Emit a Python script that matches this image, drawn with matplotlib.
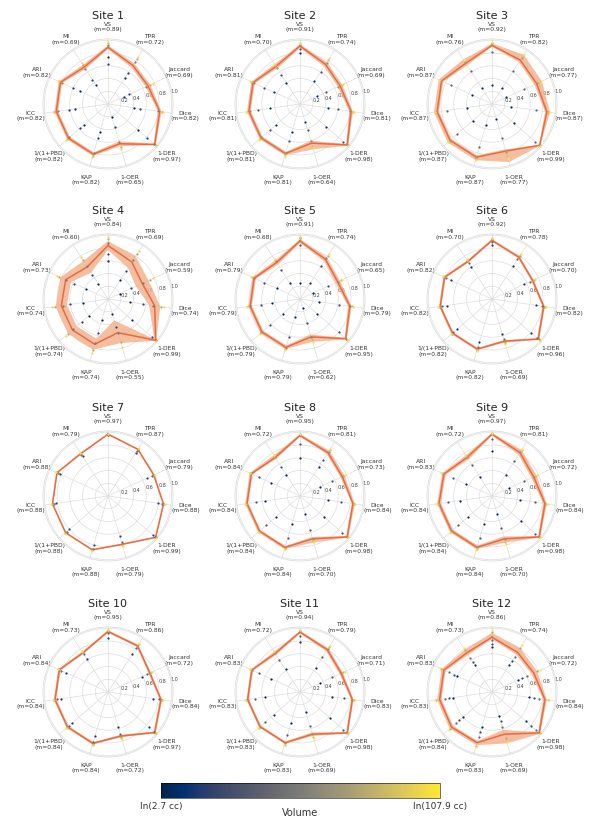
import numpy as np
import matplotlib
matplotlib.use("Agg")
import matplotlib.pyplot as plt
from matplotlib.colors import Normalize

# ---- data -----------------------------------------------------------------
metrics = ["VS", "TPR", "Jaccard", "Dice", "1-DER", "1-OER", "KAP",
           "1/(1+PBD)", "ICC", "ARI", "MI"]
sites = [f"Site {i}" for i in range(1, 13)]

# mean score per site and metric
site_means = [
    [0.89, 0.72, 0.69, 0.82, 0.97, 0.65, 0.82, 0.82, 0.82, 0.82, 0.69],
    [0.91, 0.74, 0.69, 0.81, 0.98, 0.64, 0.81, 0.81, 0.81, 0.81, 0.70],
    [0.92, 0.82, 0.77, 0.87, 0.99, 0.77, 0.87, 0.87, 0.87, 0.87, 0.76],
    [0.84, 0.69, 0.59, 0.74, 0.99, 0.55, 0.74, 0.74, 0.74, 0.73, 0.60],
    [0.91, 0.74, 0.65, 0.79, 0.95, 0.62, 0.79, 0.79, 0.79, 0.79, 0.68],
    [0.92, 0.78, 0.70, 0.82, 0.96, 0.69, 0.82, 0.82, 0.82, 0.82, 0.70],
    [0.97, 0.87, 0.79, 0.88, 0.99, 0.79, 0.88, 0.88, 0.88, 0.88, 0.79],
    [0.95, 0.81, 0.73, 0.84, 0.98, 0.70, 0.84, 0.84, 0.84, 0.84, 0.72],
    [0.97, 0.81, 0.72, 0.84, 0.98, 0.70, 0.84, 0.84, 0.84, 0.83, 0.72],
    [0.95, 0.86, 0.72, 0.84, 0.97, 0.72, 0.84, 0.84, 0.84, 0.84, 0.73],
    [0.94, 0.79, 0.71, 0.83, 0.98, 0.69, 0.83, 0.83, 0.83, 0.83, 0.72],
    [0.86, 0.74, 0.72, 0.84, 0.98, 0.69, 0.83, 0.84, 0.83, 0.83, 0.73],
]

# lower and upper edge of the shaded spread per site and metric
band_low = [
    [0.86, 0.68, 0.65, 0.79, 0.95, 0.61, 0.79, 0.79, 0.79, 0.79, 0.65],
    [0.88, 0.70, 0.65, 0.78, 0.96, 0.60, 0.78, 0.78, 0.78, 0.78, 0.66],
    [0.90, 0.78, 0.73, 0.84, 0.98, 0.74, 0.84, 0.84, 0.84, 0.84, 0.72],
    [0.77, 0.58, 0.48, 0.65, 0.96, 0.35, 0.65, 0.65, 0.65, 0.64, 0.49],
    [0.88, 0.70, 0.61, 0.76, 0.93, 0.58, 0.76, 0.76, 0.76, 0.76, 0.64],
    [0.90, 0.76, 0.68, 0.80, 0.94, 0.67, 0.80, 0.80, 0.80, 0.80, 0.68],
    [0.96, 0.86, 0.78, 0.87, 0.98, 0.78, 0.87, 0.87, 0.87, 0.87, 0.78],
    [0.93, 0.78, 0.70, 0.82, 0.96, 0.67, 0.82, 0.82, 0.82, 0.82, 0.69],
    [0.95, 0.77, 0.68, 0.81, 0.96, 0.66, 0.81, 0.81, 0.81, 0.80, 0.68],
    [0.93, 0.84, 0.70, 0.82, 0.95, 0.70, 0.82, 0.82, 0.82, 0.82, 0.71],
    [0.92, 0.76, 0.68, 0.81, 0.96, 0.66, 0.81, 0.81, 0.81, 0.81, 0.69],
    [0.83, 0.70, 0.68, 0.81, 0.96, 0.62, 0.80, 0.81, 0.80, 0.80, 0.69],
]
band_high = [
    [0.92, 0.76, 0.73, 0.85, 0.99, 0.69, 0.85, 0.85, 0.85, 0.85, 0.73],
    [0.94, 0.78, 0.73, 0.84, 1.00, 0.74, 0.84, 0.84, 0.84, 0.84, 0.74],
    [0.95, 0.92, 0.86, 0.92, 1.00, 0.95, 0.92, 0.92, 0.92, 0.92, 0.83],
    [0.91, 0.80, 0.70, 0.83, 1.00, 0.72, 0.83, 0.83, 0.83, 0.82, 0.71],
    [0.94, 0.78, 0.69, 0.82, 0.97, 0.70, 0.82, 0.82, 0.82, 0.82, 0.72],
    [0.94, 0.80, 0.72, 0.84, 0.98, 0.71, 0.84, 0.84, 0.84, 0.84, 0.72],
    [0.98, 0.88, 0.80, 0.89, 1.00, 0.80, 0.89, 0.89, 0.89, 0.89, 0.80],
    [0.97, 0.85, 0.77, 0.87, 1.00, 0.76, 0.87, 0.87, 0.87, 0.87, 0.76],
    [0.99, 0.86, 0.77, 0.87, 1.00, 0.76, 0.87, 0.87, 0.87, 0.86, 0.76],
    [0.97, 0.88, 0.74, 0.86, 0.99, 0.74, 0.86, 0.86, 0.86, 0.86, 0.75],
    [0.96, 0.82, 0.74, 0.85, 1.00, 0.72, 0.85, 0.85, 0.85, 0.85, 0.75],
    [0.93, 0.82, 0.78, 0.87, 1.00, 0.84, 0.87, 0.88, 0.87, 0.87, 0.79],
]

# tumour volume (cc) of the individual cases per site
case_volumes = [
    [2.9, 4.5, 18, 45, 95],
    [3.5, 7, 25, 60, 100],
    [3.0, 10, 30, 60, 105],
    [2.8, 5, 15, 40, 90],
    [2.9, 6, 20, 50, 100],
    [4.0, 12, 30, 60, 100],
    [5.0, 10, 20, 50, 100],
    [3.0, 7, 25, 60, 100],
    [3.0, 8, 25, 60, 105],
    [4.0, 10, 30, 60, 100],
    [3.0, 8, 25, 55, 100],
    [3.0, 6, 12, 40, 105],
]

# individual case scores per site (rows follow case_volumes)
case_scores = [
    [[0.74, 0.48, 0.28, 0.42, 0.62, 0.22, 0.45, 0.50, 0.52, 0.48, 0.35],
     [0.62, 0.58, 0.36, 0.50, 0.82, 0.38, 0.55, 0.58, 0.62, 0.60, 0.45],
     [0.93, 0.78, 0.66, 0.80, 0.96, 0.62, 0.80, 0.80, 0.80, 0.80, 0.66],
     [0.95, 0.84, 0.73, 0.85, 0.99, 0.70, 0.85, 0.85, 0.85, 0.85, 0.73],
     [0.97, 0.87, 0.77, 0.87, 1.00, 0.73, 0.87, 0.87, 0.87, 0.87, 0.76]],
    [[0.80, 0.42, 0.30, 0.45, 0.55, 0.30, 0.45, 0.50, 0.48, 0.45, 0.40],
     [0.86, 0.60, 0.45, 0.60, 0.90, 0.42, 0.60, 0.62, 0.66, 0.62, 0.55],
     [0.93, 0.77, 0.66, 0.80, 0.97, 0.60, 0.80, 0.80, 0.80, 0.80, 0.68],
     [0.95, 0.82, 0.72, 0.84, 0.99, 0.68, 0.84, 0.84, 0.84, 0.84, 0.72],
     [0.96, 0.85, 0.75, 0.86, 1.00, 0.72, 0.86, 0.86, 0.86, 0.86, 0.75]],
    [[0.30, 0.30, 0.25, 0.30, 0.45, 0.25, 0.35, 0.40, 0.40, 0.35, 0.30],
     [0.82, 0.62, 0.55, 0.70, 0.90, 0.55, 0.70, 0.72, 0.72, 0.70, 0.62],
     [0.95, 0.86, 0.78, 0.88, 0.99, 0.78, 0.88, 0.88, 0.88, 0.88, 0.78],
     [0.96, 0.90, 0.82, 0.90, 1.00, 0.85, 0.90, 0.90, 0.90, 0.90, 0.80],
     [0.97, 0.92, 0.84, 0.91, 1.00, 0.88, 0.91, 0.91, 0.91, 0.91, 0.82]],
    [[0.60, 0.35, 0.20, 0.35, 0.50, 0.25, 0.35, 0.40, 0.40, 0.38, 0.28],
     [0.70, 0.52, 0.40, 0.55, 0.92, 0.45, 0.55, 0.55, 0.60, 0.58, 0.45],
     [0.88, 0.72, 0.60, 0.72, 0.99, 0.55, 0.72, 0.72, 0.72, 0.72, 0.62],
     [0.94, 0.84, 0.72, 0.84, 1.00, 0.70, 0.84, 0.84, 0.84, 0.84, 0.72],
     [0.97, 0.90, 0.78, 0.88, 1.00, 0.78, 0.88, 0.88, 0.88, 0.88, 0.78]],
    [[0.25, 0.30, 0.22, 0.30, 0.35, 0.15, 0.30, 0.35, 0.45, 0.40, 0.30],
     [0.85, 0.62, 0.48, 0.62, 0.80, 0.40, 0.62, 0.62, 0.62, 0.62, 0.55],
     [0.96, 0.76, 0.66, 0.80, 0.96, 0.62, 0.80, 0.80, 0.80, 0.80, 0.70],
     [0.98, 0.80, 0.70, 0.82, 0.98, 0.66, 0.82, 0.82, 0.82, 0.82, 0.72],
     [0.97, 0.84, 0.72, 0.84, 0.99, 0.70, 0.84, 0.84, 0.84, 0.84, 0.74]],
    [[0.85, 0.62, 0.55, 0.70, 0.82, 0.58, 0.70, 0.72, 0.72, 0.70, 0.60],
     [0.90, 0.74, 0.66, 0.79, 0.93, 0.66, 0.79, 0.80, 0.80, 0.79, 0.68],
     [0.94, 0.80, 0.72, 0.83, 0.97, 0.70, 0.83, 0.83, 0.83, 0.83, 0.72],
     [0.95, 0.82, 0.73, 0.84, 0.99, 0.72, 0.84, 0.84, 0.84, 0.84, 0.73],
     [0.96, 0.84, 0.75, 0.85, 1.00, 0.73, 0.85, 0.85, 0.85, 0.85, 0.74]],
    [[0.95, 0.80, 0.68, 0.80, 0.93, 0.65, 0.80, 0.80, 0.82, 0.82, 0.74],
     [0.96, 0.84, 0.76, 0.86, 0.98, 0.76, 0.86, 0.86, 0.86, 0.86, 0.77],
     [0.97, 0.86, 0.78, 0.87, 0.99, 0.78, 0.87, 0.87, 0.87, 0.87, 0.78],
     [0.98, 0.88, 0.80, 0.89, 1.00, 0.80, 0.89, 0.89, 0.89, 0.89, 0.80],
     [0.97, 0.89, 0.81, 0.90, 1.00, 0.81, 0.90, 0.90, 0.90, 0.90, 0.81]],
    [[0.60, 0.55, 0.35, 0.45, 0.50, 0.30, 0.45, 0.50, 0.55, 0.50, 0.40],
     [0.82, 0.68, 0.55, 0.65, 0.88, 0.55, 0.68, 0.70, 0.70, 0.70, 0.55],
     [0.96, 0.83, 0.74, 0.85, 0.98, 0.70, 0.85, 0.85, 0.85, 0.85, 0.73],
     [0.97, 0.86, 0.76, 0.86, 0.99, 0.74, 0.86, 0.86, 0.86, 0.86, 0.75],
     [0.98, 0.88, 0.78, 0.87, 1.00, 0.76, 0.87, 0.87, 0.87, 0.87, 0.76]],
    [[0.70, 0.40, 0.30, 0.45, 0.60, 0.30, 0.45, 0.50, 0.50, 0.45, 0.35],
     [0.90, 0.65, 0.55, 0.68, 0.90, 0.52, 0.68, 0.70, 0.70, 0.68, 0.58],
     [0.97, 0.82, 0.72, 0.84, 0.98, 0.70, 0.84, 0.84, 0.84, 0.84, 0.72],
     [0.98, 0.86, 0.76, 0.86, 0.99, 0.75, 0.86, 0.86, 0.86, 0.86, 0.75],
     [0.99, 0.88, 0.78, 0.88, 1.00, 0.78, 0.88, 0.88, 0.88, 0.88, 0.77]],
    [[0.85, 0.70, 0.58, 0.72, 0.85, 0.58, 0.72, 0.74, 0.74, 0.72, 0.62],
     [0.93, 0.82, 0.68, 0.81, 0.95, 0.68, 0.81, 0.81, 0.81, 0.81, 0.70],
     [0.96, 0.87, 0.73, 0.85, 0.98, 0.73, 0.85, 0.85, 0.85, 0.85, 0.74],
     [0.97, 0.89, 0.75, 0.86, 0.99, 0.75, 0.86, 0.86, 0.86, 0.86, 0.75],
     [0.97, 0.90, 0.76, 0.87, 1.00, 0.77, 0.87, 0.87, 0.87, 0.87, 0.76]],
    [[0.78, 0.45, 0.35, 0.50, 0.62, 0.32, 0.50, 0.55, 0.55, 0.50, 0.42],
     [0.88, 0.65, 0.55, 0.70, 0.90, 0.55, 0.70, 0.72, 0.72, 0.70, 0.60],
     [0.95, 0.80, 0.71, 0.83, 0.98, 0.69, 0.83, 0.83, 0.83, 0.83, 0.72],
     [0.97, 0.84, 0.75, 0.86, 0.99, 0.74, 0.86, 0.86, 0.86, 0.86, 0.75],
     [0.98, 0.86, 0.77, 0.87, 1.00, 0.76, 0.87, 0.87, 0.87, 0.87, 0.76]],
    [[0.70, 0.50, 0.45, 0.58, 0.70, 0.40, 0.58, 0.60, 0.62, 0.60, 0.50],
     [0.76, 0.58, 0.52, 0.66, 0.82, 0.48, 0.66, 0.68, 0.68, 0.66, 0.56],
     [0.82, 0.66, 0.60, 0.74, 0.92, 0.58, 0.74, 0.75, 0.75, 0.74, 0.64],
     [0.94, 0.82, 0.78, 0.88, 0.99, 0.76, 0.88, 0.88, 0.88, 0.88, 0.78],
     [0.97, 0.88, 0.82, 0.90, 1.00, 0.82, 0.90, 0.90, 0.90, 0.90, 0.82]],
]

vol_min, vol_max = 2.7, 107.9

# ---- figure ---------------------------------------------------------------
W, H = 589, 820
fig = plt.figure(figsize=(W / 100, H / 100), dpi=100)

line_color = "#ea6a3f"
band_color = "#f2b08a"
cmap = plt.get_cmap("cividis")
norm = Normalize(np.log(vol_min), np.log(vol_max))

n = len(metrics)
angles = np.linspace(0, 2 * np.pi, n, endpoint=False)
closed = np.append(angles, angles[0])

col_x = [108, 300, 492]
row_y = [105, 300, 497, 693]
R = 65  # radius of a radar in pixels


def close(values):
    values = np.asarray(values, dtype=float)
    return np.append(values, values[0])


for k, name in enumerate(sites):
    cx = col_x[k % 3]
    cy = row_y[k // 3]
    ax = fig.add_axes([(cx - R) / W, 1 - (cy + R) / H, 2 * R / W, 2 * R / H],
                      projection="polar")
    ax.set_theta_offset(np.pi / 2)
    ax.set_theta_direction(-1)
    ax.set_ylim(0, 1.02)

    mean = np.array(site_means[k])
    hi = close(band_high[k])
    lo = close(band_low[k])
    ax.fill(np.concatenate([closed, closed[::-1]]),
            np.concatenate([hi, lo[::-1]]),
            color=band_color, alpha=0.8, lw=0, zorder=2)
    ax.plot(closed, close(mean), color=line_color, lw=1.1, zorder=3)

    scores = np.array(case_scores[k])
    vols = np.log(np.array(case_volumes[k]))
    for row, v in zip(scores, vols):
        ax.scatter(angles, row, s=2.5, color=cmap(norm(v)), lw=0, zorder=4)

    ax.set_xticks(angles)
    ax.set_xticklabels([f"{m}\n(m={v:.2f})" for m, v in zip(metrics, mean)],
                       fontsize=4.3, color="#333333", linespacing=1.15)
    ax.tick_params(axis="x", pad=2.5, length=0)
    ax.set_yticks([0.2, 0.4, 0.6, 0.8, 1.0])
    ax.set_yticklabels(["0.2", "0.4", "0.6", "0.8", "1.0"], fontsize=3.5,
                       color="#444444")
    ax.set_rlabel_position(80)
    ax.grid(color="#dddddd", lw=0.5)
    ax.spines["polar"].set_color("#dddddd")
    ax.spines["polar"].set_linewidth(0.6)
    ax.text(0.5, 1 + 24 / (2 * R), name, transform=ax.transAxes,
            ha="center", va="center", fontsize=8, color="#222222")

# colour bar for case volume
cax = fig.add_axes([161 / W, 1 - 799 / H, 279 / W, 15 / H])
sm = plt.cm.ScalarMappable(norm=norm, cmap=cmap)
cb = fig.colorbar(sm, cax=cax, orientation="horizontal")
cb.set_ticks([np.log(vol_min), np.log(vol_max)])
cb.set_ticklabels([f"ln({vol_min} cc)", f"ln({vol_max} cc)"])
cb.ax.tick_params(labelsize=6.5, length=0, pad=2, colors="#333333")
cb.outline.set_linewidth(0.4)
cb.set_label("Volume", fontsize=7, labelpad=-2, color="#333333")

fig.savefig("out.png", dpi=100)
